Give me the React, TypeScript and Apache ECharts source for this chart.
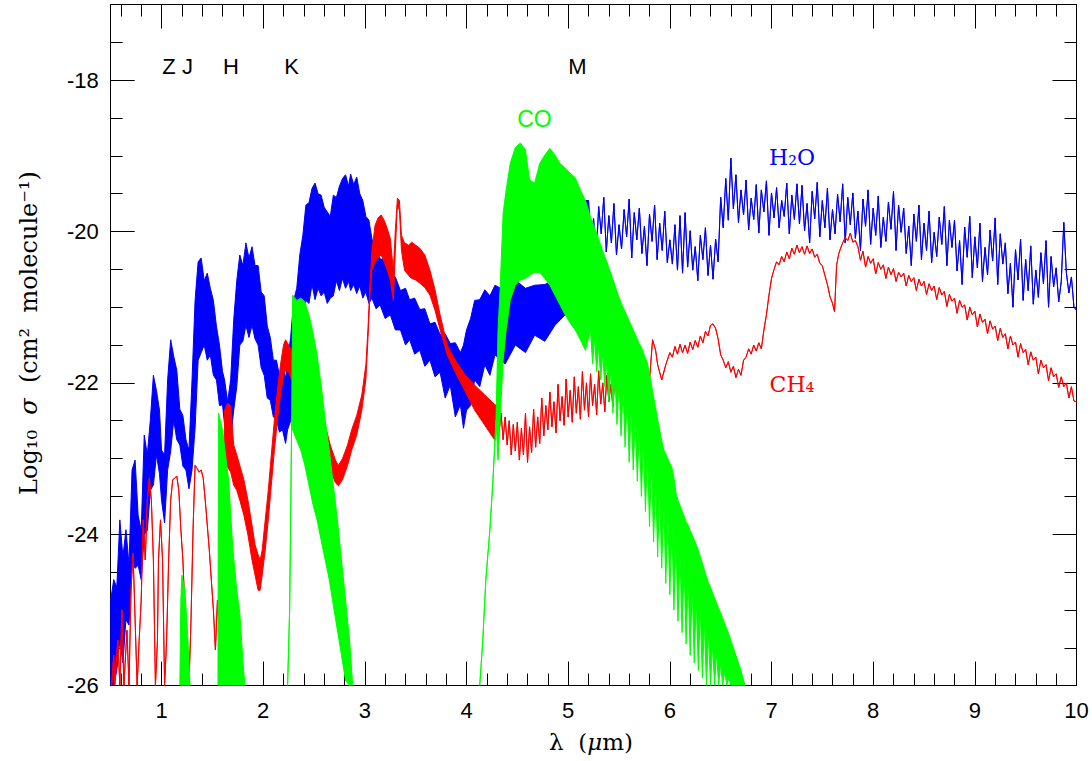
import React, { useEffect, useRef } from 'react';
import * as echarts from 'echarts';

// ---- tick values ----
const xMajorTicks = [1, 2, 3, 4, 5, 6, 7, 8, 9, 10];
const yMajorTicks = [-26, -24, -22, -20, -18];
const xMinorTicks: number[] = [];
for (let k = 3; k <= 49; k++) if (k % 5 !== 0) xMinorTicks.push(k / 5);
const yMinorTicks: number[] = [];
for (let k = -51; k <= -35; k++) if (k % 4 !== 0) yMinorTicks.push(k / 2);

// ---- H2O: [wavelength, upper, lower] (dense part) ----
const h2oBand: number[][] = [
  [0.50, -24.87, -26], [0.53, -24.60, -26], [0.56, -24.70, -25.80], [0.59, -23.81, -25.40], [0.62, -24.30, -25.70],
  [0.65, -23.94, -25.13], [0.68, -24.40, -25.20], [0.71, -23.15, -24.34], [0.74, -23.02, -24.45], [0.77, -23.75, -24.41],
  [0.80, -23.95, -24.60], [0.83, -22.69, -24.01], [0.86, -22.95, -23.95], [0.89, -22.49, -23.42], [0.92, -21.90, -23.35],
  [0.95, -22.10, -22.95], [0.98, -22.36, -23.20], [1.00, -22.89, -23.55], [1.03, -22.95, -23.85], [1.06, -21.96, -23.15],
  [1.09, -21.43, -22.90], [1.12, -21.65, -22.49], [1.15, -21.83, -22.75], [1.18, -22.35, -22.82], [1.21, -22.43, -23.10],
  [1.24, -22.75, -23.15], [1.27, -22.89, -23.40], [1.30, -21.96, -23.15], [1.33, -20.91, -22.60], [1.36, -20.40, -21.70],
  [1.39, -20.35, -21.60], [1.42, -20.65, -21.50], [1.45, -20.55, -21.70], [1.48, -20.75, -21.63], [1.51, -20.91, -21.90],
  [1.54, -21.25, -21.96], [1.57, -21.50, -22.30], [1.60, -21.85, -22.29], [1.62, -21.96, -22.55], [1.65, -22.25, -22.56],
  [1.68, -21.96, -22.75], [1.71, -21.17, -22.36], [1.74, -20.65, -22.05], [1.77, -20.31, -21.50], [1.80, -20.45, -21.45],
  [1.83, -20.15, -21.24], [1.86, -20.35, -21.40], [1.89, -20.20, -21.24], [1.92, -20.45, -21.42], [1.95, -20.45, -21.50],
  [1.98, -20.80, -21.80], [2.01, -20.85, -21.90], [2.04, -21.25, -22.20], [2.07, -21.40, -22.23], [2.10, -21.70, -22.45],
  [2.13, -21.70, -22.49], [2.16, -21.90, -22.65], [2.19, -21.72, -22.62], [2.22, -21.95, -22.80], [2.24, -21.70, -22.62],
  [2.27, -21.40, -22.50], [2.30, -20.91, -22.10], [2.33, -20.75, -21.90], [2.36, -20.31, -21.50], [2.39, -20.05, -21.30],
  [2.42, -19.65, -20.91], [2.45, -19.62, -20.95], [2.48, -19.43, -20.70], [2.51, -19.36, -20.90], [2.54, -19.50, -20.75],
  [2.57, -19.52, -20.85], [2.60, -19.68, -20.80], [2.63, -19.74, -20.95], [2.66, -19.80, -20.88], [2.69, -19.52, -20.85],
  [2.72, -19.55, -20.65], [2.75, -19.40, -20.78], [2.78, -19.30, -20.62], [2.81, -19.25, -20.75], [2.84, -19.40, -20.66],
  [2.86, -19.24, -20.78], [2.89, -19.38, -20.70], [2.92, -19.28, -20.82], [2.95, -19.50, -20.72], [2.98, -19.59, -20.88],
  [3.01, -19.80, -20.80], [3.04, -19.85, -20.95], [3.07, -20.10, -20.88], [3.11, -20.22, -21.02], [3.15, -20.36, -20.97],
  [3.20, -20.38, -21.15], [3.25, -20.56, -21.10], [3.30, -20.60, -21.30], [3.35, -20.78, -21.30], [3.40, -20.75, -21.50],
  [3.44, -20.90, -21.43], [3.49, -20.88, -21.62], [3.54, -21.03, -21.57], [3.59, -21.02, -21.78], [3.64, -21.22, -21.70],
  [3.69, -21.20, -21.92], [3.74, -21.36, -21.86], [3.79, -21.35, -22.20], [3.84, -21.48, -22.03], [3.89, -21.47, -22.45],
  [3.94, -21.60, -22.29], [3.97, -21.50, -22.60], [4.00, -21.30, -22.36], [4.04, -21.15, -22.30], [4.08, -20.91, -21.96],
  [4.13, -20.90, -22.05], [4.18, -20.77, -21.76], [4.23, -20.85, -21.90], [4.28, -20.71, -21.63], [4.38, -20.78, -21.75],
  [4.48, -20.64, -21.50], [4.58, -20.75, -21.60], [4.67, -20.71, -21.37], [4.77, -20.70, -21.45], [4.87, -20.64, -21.24],
  [4.97, -20.38, -21.10], [5.07, -19.85, -20.64], [5.17, -19.59, -20.38],
];
// ---- H2O: [wavelength, value] (resolved part) ----
const h2oLine: number[][] = [
  [5.200, -19.59], [5.225, -20.19], [5.250, -19.83], [5.275, -20.35], [5.300, -19.67], [5.325, -20.03], [5.350, -19.55],
  [5.375, -20.27], [5.400, -19.79], [5.425, -20.15], [5.450, -19.63], [5.475, -20.31], [5.500, -19.91], [5.525, -20.23],
  [5.550, -19.71], [5.575, -20.07], [5.600, -19.57], [5.625, -20.35], [5.650, -19.75], [5.675, -20.11], [5.700, -19.69],
  [5.725, -20.29], [5.750, -19.93], [5.775, -20.45], [5.800, -19.77], [5.825, -20.13], [5.850, -19.65], [5.875, -20.37],
  [5.900, -19.89], [5.925, -20.25], [5.950, -19.73], [5.975, -20.41], [6.000, -20.11], [6.025, -20.43], [6.050, -19.91],
  [6.075, -20.51], [6.100, -19.79], [6.125, -20.55], [6.150, -19.75], [6.175, -20.47], [6.200, -19.99], [6.225, -20.51],
  [6.250, -20.20], [6.275, -20.65], [6.300, -20.05], [6.325, -20.37], [6.350, -19.95], [6.375, -20.58], [6.400, -20.18],
  [6.425, -20.63], [6.450, -20.10], [6.475, -20.40], [6.500, -19.55], [6.525, -19.95], [6.550, -19.30], [6.575, -19.85],
  [6.600, -19.03], [6.625, -19.70], [6.650, -19.25], [6.675, -19.88], [6.700, -19.45], [6.725, -19.78], [6.750, -19.32],
  [6.775, -19.98], [6.800, -19.56], [6.825, -19.84], [6.850, -19.38], [6.875, -20.02], [6.900, -19.45], [6.925, -19.74],
  [6.950, -19.33], [6.975, -20.05], [7.000, -19.49], [7.025, -19.82], [7.050, -19.42], [7.075, -19.95], [7.100, -19.59],
  [7.125, -19.80], [7.150, -19.36], [7.175, -20.03], [7.200, -19.52], [7.225, -19.84], [7.250, -19.37], [7.275, -19.90],
  [7.300, -19.39], [7.325, -19.99], [7.350, -19.63], [7.375, -20.15], [7.400, -19.47], [7.425, -19.83], [7.450, -19.35],
  [7.475, -20.07], [7.500, -19.59], [7.525, -19.95], [7.550, -19.43], [7.575, -20.11], [7.600, -19.71], [7.625, -20.03],
  [7.650, -19.51], [7.675, -19.87], [7.700, -19.37], [7.725, -20.15], [7.750, -19.55], [7.775, -19.91], [7.800, -19.49],
  [7.825, -20.09], [7.850, -19.73], [7.875, -20.25], [7.900, -19.57], [7.925, -19.93], [7.950, -19.45], [7.975, -20.17],
  [8.000, -19.69], [8.025, -20.05], [8.050, -19.53], [8.075, -20.21], [8.100, -19.81], [8.125, -20.13], [8.150, -19.61],
  [8.175, -19.97], [8.200, -19.47], [8.225, -20.25], [8.250, -19.65], [8.275, -20.01], [8.300, -19.69], [8.325, -20.29],
  [8.350, -19.93], [8.375, -20.45], [8.400, -19.77], [8.425, -20.13], [8.450, -19.65], [8.475, -20.37], [8.500, -19.89],
  [8.525, -20.25], [8.550, -19.73], [8.575, -20.41], [8.600, -20.01], [8.625, -20.33], [8.650, -19.81], [8.675, -20.17],
  [8.700, -19.67], [8.725, -20.45], [8.750, -19.85], [8.775, -20.21], [8.800, -19.85], [8.825, -20.52], [8.850, -20.12],
  [8.875, -20.70], [8.900, -19.94], [8.925, -20.34], [8.950, -19.80], [8.975, -20.61], [9.000, -20.07], [9.025, -20.48],
  [9.050, -19.89], [9.075, -20.66], [9.100, -20.21], [9.125, -20.57], [9.150, -19.98], [9.175, -20.39], [9.200, -19.82],
  [9.225, -20.70], [9.250, -20.03], [9.275, -20.43], [9.300, -20.15], [9.325, -20.82], [9.350, -20.42], [9.375, -21.00],
  [9.400, -20.24], [9.425, -20.64], [9.450, -20.10], [9.475, -20.91], [9.500, -20.37], [9.525, -20.78], [9.550, -20.19],
  [9.575, -20.96], [9.600, -20.51], [9.625, -20.87], [9.650, -20.28], [9.675, -20.69], [9.700, -20.12], [9.725, -21.00],
  [9.750, -20.33], [9.775, -20.73], [9.800, -20.48], [9.825, -20.93], [9.850, -20.66], [9.875, -19.88], [9.900, -20.54],
  [9.925, -20.81], [9.950, -20.60], [9.975, -21.00], [10.000, -21.04],
];

// ---- CH4 ----
const ch4Near: number[][] = [
  [0.51, -26], [0.53, -25.60], [0.54, -26], [0.57, -25.40], [0.59, -26], [0.61, -25.00], [0.63, -26], [0.66, -25.27],
  [0.68, -26], [0.70, -24.74], [0.72, -24.25], [0.74, -25.13], [0.76, -26], [0.78, -25.40], [0.80, -24.87], [0.82, -23.81],
  [0.84, -24.34], [0.86, -23.55], [0.88, -23.26], [0.90, -23.55], [0.92, -24.34], [0.94, -26], [0.96, -25.40], [0.97, -24.34],
  [0.99, -23.81], [1.01, -24.34], [1.03, -26], [1.05, -25.40], [1.07, -24.34], [1.09, -23.55], [1.11, -23.28], [1.13, -23.26],
  [1.15, -23.23], [1.17, -23.42], [1.19, -23.94], [1.21, -24.34], [1.23, -25.00], [1.25, -25.53], [1.27, -26], [1.29, -25.13],
  [1.31, -23.94], [1.33, -23.09], [1.35, -23.13], [1.37, -23.18], [1.39, -23.15], [1.41, -23.26], [1.43, -23.55], [1.45, -23.88],
  [1.47, -24.21], [1.49, -24.61], [1.51, -25.00], [1.53, -25.53], [1.55, -24.87], [1.57, -25.40], [1.59, -24.61], [1.61, -23.81],
];
const ch4Band: number[][] = [
  [1.62, -22.36, -23.15], [1.65, -22.27, -23.11], [1.68, -22.30, -23.18], [1.71, -22.82, -23.35], [1.74, -22.95, -23.42],
  [1.77, -23.09, -23.55], [1.81, -23.28, -23.75], [1.85, -23.55, -24.01], [1.89, -23.88, -24.34], [1.92, -24.14, -24.54],
  [1.95, -24.27, -24.74], [1.97, -24.34, -24.74], [1.99, -24.21, -24.54], [2.02, -23.81, -24.21], [2.05, -23.42, -23.81],
  [2.08, -22.95, -23.35], [2.11, -22.49, -22.89], [2.14, -22.10, -22.49], [2.17, -21.76, -22.16], [2.20, -21.50, -21.90],
  [2.22, -21.43, -21.83], [2.25, -21.50, -21.86], [2.28, -21.57, -21.96], [2.32, -21.63, -22.03], [2.36, -21.70, -22.12],
  [2.41, -21.76, -22.23], [2.46, -21.90, -22.36], [2.51, -22.10, -22.56], [2.56, -22.36, -22.76], [2.61, -22.56, -22.95],
  [2.66, -22.82, -23.15], [2.71, -23.02, -23.32], [2.74, -23.09, -23.36], [2.78, -23.00, -23.28], [2.83, -22.82, -23.09],
  [2.87, -22.62, -22.89], [2.92, -22.43, -22.69], [2.97, -22.16, -22.36], [3.01, -21.76, -21.96], [3.03, -21.30, -21.43],
  [3.05, -20.71, -20.84], [3.07, -20.25, -20.51], [3.10, -19.92, -20.40], [3.13, -19.82, -20.35], [3.16, -19.78, -20.31],
  [3.19, -19.85, -20.40], [3.22, -19.96, -20.51], [3.25, -20.09, -20.64], [3.28, -20.51, -20.91], [3.30, -19.98, -20.25],
  [3.32, -19.56, -19.65], [3.34, -19.59, -19.72], [3.36, -20.05, -20.25], [3.39, -20.15, -20.51], [3.43, -20.18, -20.58],
  [3.46, -20.14, -20.62], [3.50, -20.18, -20.64], [3.54, -20.22, -20.68], [3.59, -20.31, -20.74], [3.64, -20.51, -20.84],
  [3.69, -20.77, -21.04], [3.74, -21.10, -21.30], [3.81, -21.50, -21.63], [3.89, -21.70, -21.86], [3.99, -21.90, -22.12],
  [4.08, -22.03, -22.36], [4.18, -22.16, -22.56], [4.28, -22.29, -22.76],
];
const ch4Mid: number[][] = [
  [4.30, -22.30], [4.32, -22.66], [4.34, -22.40], [4.36, -22.75], [4.38, -22.45], [4.40, -22.82], [4.42, -22.50], [4.44, -22.95],
  [4.46, -22.55], [4.48, -22.90], [4.50, -22.52], [4.52, -23.02], [4.54, -22.60], [4.56, -22.95], [4.58, -22.40], [4.60, -23.05],
  [4.62, -22.58], [4.64, -22.92], [4.66, -22.35], [4.68, -22.85], [4.70, -22.45], [4.72, -22.80], [4.74, -22.20], [4.76, -22.70],
  [4.78, -22.30], [4.80, -22.62], [4.82, -22.12], [4.84, -22.58], [4.86, -22.25], [4.88, -22.66], [4.90, -22.02], [4.92, -22.50],
  [4.94, -22.18], [4.96, -22.56], [4.98, -21.95], [5.00, -22.45], [5.02, -22.10], [5.04, -22.52], [5.06, -21.92], [5.08, -22.40],
  [5.10, -22.05], [5.12, -22.48], [5.14, -21.85], [5.16, -22.36], [5.18, -22.00], [5.20, -22.45], [5.22, -21.88], [5.24, -22.30],
  [5.26, -22.02], [5.28, -22.42], [5.30, -21.84], [5.32, -22.28], [5.34, -22.00], [5.36, -22.38], [5.38, -21.90], [5.40, -22.25],
  [5.42, -22.02], [5.44, -22.32], [5.46, -21.88], [5.48, -22.22], [5.50, -21.98], [5.52, -22.26], [5.54, -21.92], [5.56, -22.18],
  [5.58, -21.95], [5.60, -22.22], [5.62, -21.90], [5.64, -22.15], [5.66, -21.96], [5.68, -22.18], [5.70, -21.95], [5.72, -22.12],
  [5.74, -21.98], [5.76, -22.14], [5.78, -21.90], [5.80, -21.96],
];
const ch4Far: number[][] = [
  [5.83, -21.43], [5.86, -21.57], [5.88, -21.76], [5.92, -21.96], [5.96, -21.76],
  [6.000, -21.60], [6.025, -21.66], [6.050, -21.52], [6.075, -21.62], [6.100, -21.49], [6.125, -21.60], [6.150, -21.50],
  [6.175, -21.61], [6.200, -21.46], [6.225, -21.56], [6.250, -21.44], [6.275, -21.53], [6.300, -21.38], [6.325, -21.47],
  [6.350, -21.32], [6.375, -21.38], [6.400, -21.24], [6.425, -21.22], [6.450, -21.28], [6.475, -21.42], [6.500, -21.63],
  [6.525, -21.70], [6.550, -21.80], [6.575, -21.72], [6.600, -21.86], [6.625, -21.78], [6.650, -21.93], [6.675, -21.82],
  [6.700, -21.90], [6.725, -21.70], [6.750, -21.66], [6.775, -21.55], [6.800, -21.62], [6.825, -21.50], [6.850, -21.58],
  [6.875, -21.47], [6.900, -21.55], [6.925, -21.30], [6.950, -21.10], [6.975, -20.84], [7.000, -20.62], [7.025, -20.50],
  [7.050, -20.40], [7.075, -20.44], [7.100, -20.33], [7.125, -20.40], [7.150, -20.27], [7.175, -20.36], [7.200, -20.22],
  [7.225, -20.30], [7.250, -20.18], [7.275, -20.28], [7.300, -20.20], [7.325, -20.30], [7.350, -20.19], [7.375, -20.29],
  [7.400, -20.23], [7.425, -20.34], [7.450, -20.30], [7.475, -20.42], [7.500, -20.45], [7.525, -20.58], [7.550, -20.70],
  [7.575, -20.86], [7.600, -20.95], [7.620, -21.06], [7.640, -20.45], [7.660, -20.30], [7.680, -20.22], [7.700, -20.15],
  [7.725, -20.08], [7.750, -20.12], [7.775, -20.02], [7.800, -20.14], [7.825, -20.12], [7.850, -20.20], [7.875, -20.38],
  [7.900, -20.26], [7.925, -20.47], [7.950, -20.33], [7.975, -20.42], [8.000, -20.36], [8.025, -20.56], [8.050, -20.41],
  [8.075, -20.50], [8.100, -20.44], [8.125, -20.62], [8.150, -20.47], [8.175, -20.57], [8.200, -20.49], [8.225, -20.66],
  [8.250, -20.54], [8.275, -20.60], [8.300, -20.55], [8.325, -20.72], [8.350, -20.58], [8.375, -20.66], [8.400, -20.61],
  [8.425, -20.78], [8.450, -20.63], [8.475, -20.72], [8.500, -20.66], [8.525, -20.83], [8.550, -20.69], [8.575, -20.78],
  [8.600, -20.72], [8.625, -20.90], [8.650, -20.74], [8.675, -20.84], [8.700, -20.79], [8.725, -20.99], [8.750, -20.83],
  [8.775, -20.92], [8.800, -20.88], [8.825, -21.08], [8.850, -20.91], [8.875, -21.00], [8.900, -20.97], [8.925, -21.17],
  [8.950, -21.00], [8.975, -21.10], [9.000, -21.05], [9.025, -21.26], [9.050, -21.09], [9.075, -21.20], [9.100, -21.16],
  [9.125, -21.35], [9.150, -21.18], [9.175, -21.29], [9.200, -21.25], [9.225, -21.44], [9.250, -21.28], [9.275, -21.40],
  [9.300, -21.35], [9.325, -21.55], [9.350, -21.38], [9.375, -21.50], [9.400, -21.46], [9.425, -21.66], [9.450, -21.48],
  [9.475, -21.60], [9.500, -21.56], [9.525, -21.76], [9.550, -21.59], [9.575, -21.70], [9.600, -21.66], [9.625, -21.88],
  [9.650, -21.70], [9.675, -21.80], [9.700, -21.76], [9.725, -21.97], [9.750, -21.80], [9.775, -21.92], [9.800, -21.88],
  [9.825, -22.06], [9.850, -21.92], [9.875, -22.05], [9.900, -22.00], [9.925, -22.20], [9.950, -22.05], [9.975, -22.24],
  [10.000, -22.25],
];

// ---- CO bands: [wavelength, upper, lower] ----
const co12: number[][] = [
  [1.18, -26], [1.19, -24.87, -26], [1.20, -24.54, -26], [1.23, -24.74, -26], [1.26, -25.40, -26], [1.28, -26],
];
const co16: number[][] = [
  [1.555, -26], [1.56, -22.40, -26], [1.60, -22.62, -26], [1.62, -22.85, -26], [1.66, -23.28, -26],
  [1.70, -24.17, -26], [1.74, -24.74, -26], [1.77, -25.04, -26], [1.80, -25.66, -26], [1.82, -26],
];
const co23: number[][] = [
  [2.24, -26], [2.26, -25.00], [2.27, -23.81], [2.28, -22.49], [2.29, -20.84, -22.62], [2.33, -20.91, -22.76],
  [2.37, -20.88, -22.89], [2.41, -20.93, -23.09], [2.45, -21.10, -23.35], [2.49, -21.34, -23.61], [2.53, -21.63, -23.81],
  [2.57, -22.03, -24.08], [2.61, -22.49, -24.34], [2.65, -22.89, -24.60], [2.69, -23.35, -24.94], [2.73, -23.81, -25.27],
  [2.77, -24.34, -25.60], [2.81, -24.87, -25.93], [2.85, -25.40, -26], [2.88, -26],
];
const co47: number[][] = [
  [4.13, -26], [4.16, -25.40], [4.19, -24.60], [4.23, -23.94], [4.26, -23.28], [4.29, -22.49],
  [4.31, -21.30, -23.02], [4.33, -20.77, -22.49], [4.36, -19.76, -21.70], [4.39, -19.45, -21.30], [4.43, -19.10, -20.91],
  [4.48, -18.89, -20.71], [4.53, -18.83, -20.64], [4.58, -18.92, -20.62], [4.62, -19.32, -20.58], [4.67, -19.36, -20.54],
  [4.72, -19.10, -20.54], [4.77, -18.99, -20.62], [4.82, -18.90, -20.71], [4.87, -18.99, -20.84], [4.92, -19.10, -20.97],
  [4.97, -19.16, -21.10], [5.02, -19.23, -21.21], [5.07, -19.29, -21.30], [5.12, -19.45, -21.43], [5.17, -19.59, -21.57],
];
const coComb: number[][] = [
  [5.22, -19.81, -21.30], [5.24, -19.88, -21.75], [5.26, -19.95, -21.40], [5.28, -20.02, -21.85], [5.30, -20.10, -21.50],
  [5.32, -20.18, -21.96], [5.34, -20.26, -21.60], [5.36, -20.33, -22.05], [5.38, -20.40, -21.70], [5.40, -20.48, -22.25],
  [5.42, -20.55, -21.80], [5.44, -20.63, -22.40], [5.46, -20.71, -21.90], [5.48, -20.79, -22.55], [5.50, -20.87, -22.00],
  [5.52, -20.94, -22.70], [5.54, -21.00, -22.10], [5.56, -21.06, -22.85], [5.58, -21.12, -22.20], [5.60, -21.18, -23.05],
  [5.62, -21.24, -22.30], [5.64, -21.30, -23.15], [5.66, -21.36, -22.45], [5.68, -21.42, -23.30], [5.70, -21.48, -22.60],
  [5.72, -21.53, -23.50], [5.74, -21.60, -22.75], [5.76, -21.67, -23.70], [5.78, -21.74, -22.90], [5.80, -21.88, -23.90],
  [5.82, -22.03, -23.05], [5.84, -22.18, -24.10], [5.86, -22.33, -23.25], [5.88, -22.48, -24.30], [5.90, -22.62, -23.40],
  [5.92, -22.76, -24.45], [5.94, -22.88, -23.55], [5.96, -22.94, -24.65], [5.98, -23.00, -23.70], [6.00, -23.06, -24.80],
  [6.02, -23.12, -23.85], [6.04, -23.25, -25.00], [6.06, -23.45, -24.05], [6.08, -23.55, -25.15], [6.10, -23.62, -24.25],
  [6.12, -23.69, -25.30], [6.14, -23.76, -24.40], [6.16, -23.83, -25.45], [6.18, -23.88, -24.55], [6.20, -23.95, -25.60],
  [6.22, -24.01, -24.70], [6.24, -24.07, -25.70], [6.26, -24.14, -24.85], [6.28, -24.21, -25.80], [6.30, -24.30, -25.00],
  [6.32, -24.38, -25.90], [6.34, -24.47, -25.15], [6.36, -24.56, -26.00], [6.38, -24.64, -25.30], [6.40, -24.70, -26.00],
  [6.42, -24.77, -25.45], [6.44, -24.84, -26.00], [6.46, -24.91, -25.55], [6.48, -24.98, -26.00], [6.50, -25.04, -25.70],
  [6.52, -25.11, -26.00], [6.54, -25.18, -25.80], [6.56, -25.25, -26.00], [6.58, -25.32, -25.90], [6.60, -25.40, -26.00],
  [6.62, -25.48, -26.00], [6.64, -25.56, -26.00], [6.66, -25.64, -26.00], [6.68, -25.72, -26.00], [6.70, -25.80, -26.00],
  [6.72, -25.90, -26.00], [6.74, -26.00, -26.00],
];

const H2O_COLOR = '#0000ff';
const CH4_COLOR = '#ff0000';
const CO_COLOR = '#00ff00';
const SANS = '"Liberation Sans", Arial, sans-serif';
const SERIF = '"DejaVu Serif", serif';

function bandSeries(name: string, segments: number[][][], color: string) {
  return {
    type: 'custom',
    name,
    coordinateSystem: 'cartesian2d',
    xAxisIndex: 0,
    yAxisIndex: 0,
    silent: true,
    clip: true,
    data: [[segments[0][0][0], segments[0][0][1]]],
    encode: { x: 0, y: 1 },
    renderItem: (_params: any, api: any) => ({
      type: 'group',
      children: segments.map((seg) => {
        const up = seg.map((p) => api.coord([p[0], p[1]]));
        const lo = seg
          .slice()
          .reverse()
          .map((p) => api.coord([p[0], p.length > 2 ? p[2] : p[1]]));
        return {
          type: 'polygon',
          shape: { points: up.concat(lo) },
          style: { fill: color, stroke: color, lineWidth: 1, lineJoin: 'round' },
        };
      }),
    }),
  };
}

function txt(x: number, y: number, text: string, fill: string, fontSize: number, fontFamily: string, extra: any = {}) {
  return {
    type: 'text',
    x,
    y,
    silent: true,
    ...extra,
    style: {
      text,
      fill,
      fontSize,
      fontFamily,
      align: 'center',
      verticalAlign: 'middle',
      textAlign: 'center',
      textVerticalAlign: 'middle',
      ...(extra.style || {}),
    },
  };
}

export default function App() {
  const ref = useRef<HTMLDivElement>(null);
  useEffect(() => {
    const chart = echarts.init(ref.current!, undefined, { renderer: 'svg' });
    const tickLine = { color: '#000', width: 1 };
    const baseX = {
      type: 'value',
      min: 0.5,
      max: 10,
      splitLine: { show: false },
      axisLine: { onZero: false, lineStyle: { color: '#000', width: 1 } },
    };
    const baseY = {
      type: 'value',
      min: -26,
      max: -17,
      splitLine: { show: false },
      axisLine: { onZero: false, lineStyle: { color: '#000', width: 1 } },
    };
    const italicRich = (size: number) => ({
      i: { fontStyle: 'italic', fontSize: size, fontFamily: SERIF, fill: '#000' },
      n: { fontSize: size, fontFamily: SERIF, fill: '#000' },
    });
    const option: any = {
      animation: false,
      backgroundColor: '#ffffff',
      grid: { left: 110.7, top: 4.5, width: 965.8, height: 681.1, containLabel: false, outerBoundsMode: 'none' },
      xAxis: [
        {
          ...baseX,
          position: 'bottom',
          axisTick: { inside: true, length: 24, customValues: xMajorTicks, lineStyle: tickLine },
          axisLabel: { customValues: xMajorTicks, fontSize: 22, fontFamily: SANS, color: '#000', margin: 14 },
        },
        {
          ...baseX,
          position: 'bottom',
          axisLine: { show: false, onZero: false },
          axisTick: { inside: true, length: 12, customValues: xMinorTicks, lineStyle: tickLine },
          axisLabel: { show: false },
        },
        {
          ...baseX,
          position: 'top',
          axisTick: { inside: true, length: 24, customValues: xMajorTicks, lineStyle: tickLine },
          axisLabel: { show: false },
        },
        {
          ...baseX,
          position: 'top',
          axisLine: { show: false, onZero: false },
          axisTick: { inside: true, length: 12, customValues: xMinorTicks, lineStyle: tickLine },
          axisLabel: { show: false },
        },
      ],
      yAxis: [
        {
          ...baseY,
          position: 'left',
          axisTick: { inside: true, length: 24, customValues: yMajorTicks, lineStyle: tickLine },
          axisLabel: { customValues: yMajorTicks, fontSize: 22, fontFamily: SANS, color: '#000', margin: 12 },
        },
        {
          ...baseY,
          position: 'left',
          axisLine: { show: false, onZero: false },
          axisTick: { inside: true, length: 12, customValues: yMinorTicks, lineStyle: tickLine },
          axisLabel: { show: false },
        },
        {
          ...baseY,
          position: 'right',
          axisTick: { inside: true, length: 24, customValues: yMajorTicks, lineStyle: tickLine },
          axisLabel: { show: false },
        },
        {
          ...baseY,
          position: 'right',
          axisLine: { show: false, onZero: false },
          axisTick: { inside: true, length: 12, customValues: yMinorTicks, lineStyle: tickLine },
          axisLabel: { show: false },
        },
      ],
      series: [
        bandSeries('H2O', [h2oBand.concat(h2oLine)], H2O_COLOR),
        bandSeries('CH4', [ch4Near.concat(ch4Band, ch4Mid, ch4Far)], CH4_COLOR),
        bandSeries('CO', [co12, co16, co23, co47.concat(coComb)], CO_COLOR),
      ],
      graphic: [
        txt(169, 66, 'Z', '#000', 22, SANS),
        txt(187.5, 66, 'J', '#000', 22, SANS),
        txt(231, 66, 'H', '#000', 22, SANS),
        txt(291.5, 66, 'K', '#000', 22, SANS),
        txt(577.5, 66, 'M', '#000', 22, SANS),
        txt(534.5, 119, 'CO', CO_COLOR, 23, SANS),
        txt(792, 157, 'H₂O', H2O_COLOR, 22, SERIF),
        txt(792, 384, 'CH₄', CH4_COLOR, 22, SERIF),
        txt(591, 742, '{n|λ  (}{i|μ}{n|m)}', '#000', 23, SERIF, { style: { rich: italicRich(23) } }),
        txt(29, 333, '{n|Log₁₀  }{i|σ}{n|  (cm²  molecule⁻¹)}', '#000', 24, SERIF, {
          rotation: Math.PI / 2,
          style: { rich: italicRich(24) },
        }),
      ],
    };
    chart.setOption(option);
    return () => chart.dispose();
  }, []);
  return (
    <div
      ref={ref}
      style={{ position: 'absolute', left: 0, top: 0, width: 1092, height: 761, background: '#fff' }}
    />
  );
}
